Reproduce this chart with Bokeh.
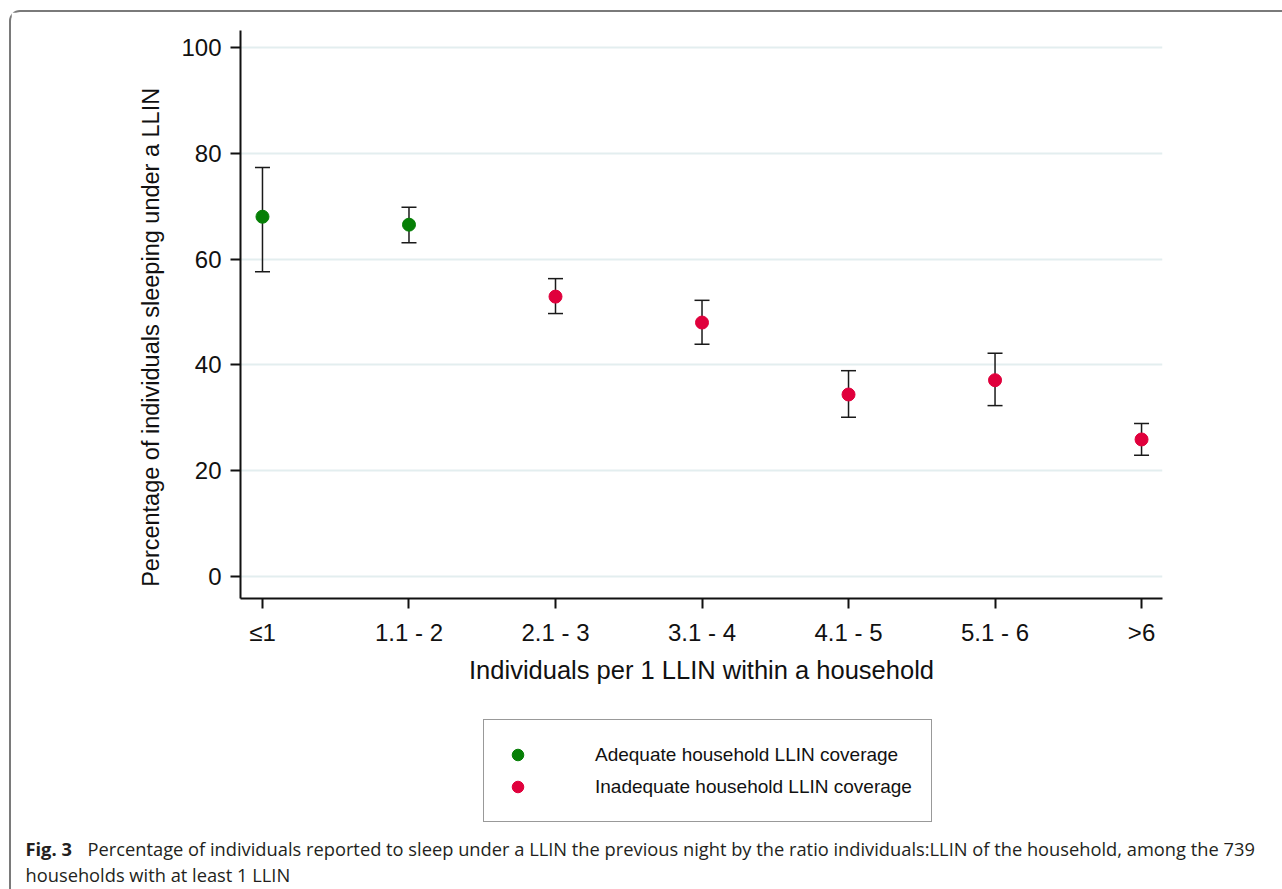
from bokeh.plotting import figure
from bokeh.layouts import column
from bokeh.models import (ColumnDataSource, Range1d, FixedTicker, Whisker, TeeHead,
                          Legend, LegendItem, Label)
from bokeh.embed import file_html
from bokeh.resources import INLINE

# ---- data ----
categories = ["≤1", "1.1 - 2", "2.1 - 3", "3.1 - 4", "4.1 - 5", "5.1 - 6", ">6"]
pct = [68.0, 66.5, 52.9, 48.0, 34.4, 37.1, 25.9]
ci_low = [57.6, 63.1, 49.7, 43.9, 30.1, 32.3, 22.9]
ci_high = [77.3, 69.8, 56.3, 52.2, 38.9, 42.2, 28.9]
coverage = ["Adequate household LLIN coverage"] * 2 + ["Inadequate household LLIN coverage"] * 5
legend_labels = ["Adequate household LLIN coverage", "Inadequate household LLIN coverage"]
y_ticks = [0, 20, 40, 60, 80, 100]
x_title = "Individuals per 1 LLIN within a household"
y_title = "Percentage of individuals sleeping under a LLIN"
caption_bold = "Fig. 3"
caption_line1 = ("Percentage of individuals reported to sleep under a LLIN the previous night by the "
                 "ratio individuals:LLIN of the household, among the 739")
caption_line2 = "households with at least 1 LLIN"

GREEN = "#067f06"
RED = "#e0003c"
FONT = "Liberation Sans"
CAP_FONT = "Open Sans"
CAP_SIZE = "18.3px"

xpos = list(range(len(categories)))

# page geometry
PW, PH = 1282, 889
OX, OY = 11, 12                      # content origin inside the rounded border
FL, FR, FT, FB = 240, 1162, 30, 598  # plot frame edges (page px)
SPLIT = 712                          # page y where the caption panel begins

W = PW - OX
H1 = SPLIT - OY
H2 = PH - SPLIT

p = figure(width=W, height=H1, output_backend="svg", toolbar_location=None,
           x_range=Range1d(-0.15, 6.143), y_range=Range1d(-4.16, 103.2),
           min_border_left=FL - OX, min_border_right=PW - FR, min_border_top=FT - OY,
           min_border_bottom=SPLIT - FB)
p.outline_line_color = None
p.background_fill_color = "white"
p.border_fill_color = "white"

for ax in (p.xaxis[0], p.yaxis[0]):
    ax.axis_line_color = "#111111"
    ax.axis_line_width = 2
    ax.major_tick_line_color = "#111111"
    ax.major_tick_line_width = 2
    ax.major_tick_out = 10
    ax.major_tick_in = 0
    ax.minor_tick_line_color = None
    ax.major_label_text_font = FONT
    ax.major_label_text_font_size = "24px"
    ax.major_label_text_color = "#111111"
    ax.axis_label_text_font = FONT
    ax.axis_label_text_font_style = "normal"
    ax.axis_label_text_color = "#111111"

p.xaxis.ticker = FixedTicker(ticks=xpos)
p.xaxis.major_label_overrides = {i: c for i, c in zip(xpos, categories)}
p.xaxis.axis_label = x_title
p.xaxis.axis_label_text_font_size = "25.5px"
p.xaxis.major_label_standoff = 10
p.xaxis.axis_label_standoff = 7

p.yaxis.ticker = FixedTicker(ticks=y_ticks)
p.yaxis.axis_label = y_title + "\u00a0" * 7
p.yaxis.axis_label_text_font_size = "23.5px"
p.yaxis.major_label_standoff = 9
p.yaxis.axis_label_standoff = 14

p.xgrid.grid_line_color = None
p.ygrid.grid_line_color = "#e3eeef"
p.ygrid.grid_line_width = 2
p.ygrid.ticker = FixedTicker(ticks=y_ticks)

src = ColumnDataSource(dict(x=xpos, pct=pct, lo=ci_low, hi=ci_high))
wh = Whisker(source=src, base="x", upper="hi", lower="lo", dimension="height",
             line_color="#1a1a1a", line_width=1.5, level="underlay",
             upper_head=TeeHead(size=15, line_color="#1a1a1a", line_width=1.5),
             lower_head=TeeHead(size=15, line_color="#1a1a1a", line_width=1.5))
p.add_layout(wh)

adequate_idx = [i for i, c in enumerate(coverage) if c == legend_labels[0]]
inadequate_idx = [i for i, c in enumerate(coverage) if c == legend_labels[1]]
src_a = ColumnDataSource(dict(x=[xpos[i] for i in adequate_idx], y=[pct[i] for i in adequate_idx]))
src_i = ColumnDataSource(dict(x=[xpos[i] for i in inadequate_idx], y=[pct[i] for i in inadequate_idx]))
p.scatter("x", "y", source=src_a, size=13, fill_color=GREEN, line_color=GREEN)
p.scatter("x", "y", source=src_i, size=13, fill_color=RED, line_color=RED)

# ---- lower panel: legend + caption (page pixel coordinates) ----
q = figure(width=W, height=H2, output_backend="svg", toolbar_location=None,
           x_range=Range1d(OX, PW), y_range=Range1d(PH, SPLIT),
           min_border=0, min_border_left=0, min_border_right=0,
           min_border_top=0, min_border_bottom=0)
q.axis.visible = False
q.grid.visible = False
q.outline_line_color = None
q.background_fill_color = "white"
q.border_fill_color = "white"
for fig in (p, q):
    if "frame_align" in fig.properties():
        fig.frame_align = False

nan = float("nan")
ka = q.scatter([nan], [nan], size=13, fill_color=GREEN, line_color=GREEN)
ki = q.scatter([nan], [nan], size=13, fill_color=RED, line_color=RED)
legend = Legend(items=[LegendItem(label=legend_labels[0], renderers=[ka]),
                       LegendItem(label=legend_labels[1], renderers=[ki])],
                location=(483 - OX, PH - 822), orientation="vertical",
                border_line_color="#333333", border_line_width=1.5,
                background_fill_color="white", background_fill_alpha=1.0,
                label_text_font=FONT, label_text_font_size="19px", label_text_color="#111111",
                padding=19, spacing=1, glyph_width=29, glyph_height=31,
                label_height=20, label_standoff=63, margin=0)
q.add_layout(legend, "center")

q.add_layout(Label(x=25, y=848, text=caption_bold, text_font=CAP_FONT, text_font_style="bold",
                   text_font_size=CAP_SIZE, text_color="#231f20", text_baseline="alphabetic"))
q.add_layout(Label(x=87, y=848, text=caption_line1, text_font=CAP_FONT,
                   text_font_size=CAP_SIZE, text_color="#231f20", text_baseline="alphabetic"))
q.add_layout(Label(x=25, y=874, text=caption_line2, text_font=CAP_FONT,
                   text_font_size=CAP_SIZE, text_color="#231f20", text_baseline="alphabetic"))

layout = column(p, q, spacing=0, margin=(OY - 2, 0, 0, OX - 2),
                styles={"border-top": "2px solid #7a7a7a", "border-left": "2px solid #7a7a7a",
                        "border-top-left-radius": "11px"})

html = file_html(layout, INLINE)
html = html.replace("<head>", "<head><style>html,body{margin:0;overflow:hidden;}</style>", 1)
open("out.html", "w").write(html)
